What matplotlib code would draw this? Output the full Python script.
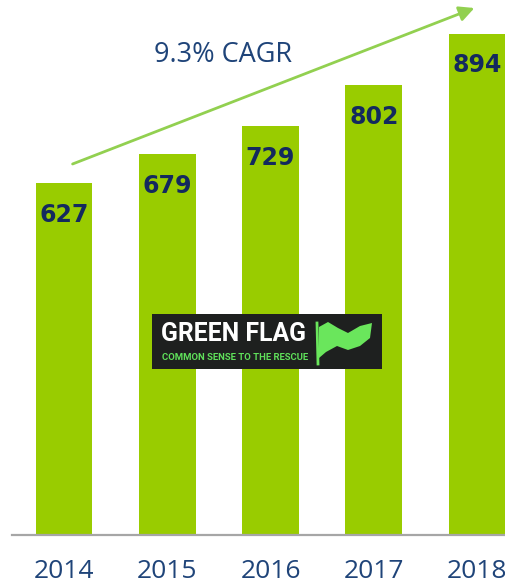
import numpy as np
import matplotlib.pyplot as plt
from matplotlib import font_manager
from matplotlib.patches import Rectangle, Polygon

years = ['2014', '2015', '2016', '2017', '2018']
values = [627, 679, 729, 802, 894]
cagr_label = '9.3% CAGR'

bar_color = '#99cc00'
navy = '#13295e'
label_blue = '#1f4479'

names = {f.name for f in font_manager.fontManager.ttflist}
narrow = 'Liberation Sans Narrow' if 'Liberation Sans Narrow' in names else 'Roboto'

W, H = 506, 586
fig = plt.figure(figsize=(W / 100, H / 100), dpi=100)
ax = fig.add_axes([12 / W, 51 / H, 1 - 12 / W, 1 - 51 / H])

x = np.arange(len(years))
ax.bar(x, values, width=0.55, color=bar_color)
ax.set_xlim(-0.503, 4.28)
ax.set_ylim(0, 954)

for xi, v in zip(x, values):
    ax.text(xi, v - 56, str(v), ha='center', va='center', fontsize=17,
            fontweight='bold', color=navy, family='DejaVu Sans')

for s in ['top', 'right', 'left']:
    ax.spines[s].set_visible(False)
ax.spines['bottom'].set_color('#a6a6a6')
ax.spines['bottom'].set_linewidth(1.6)
ax.set_yticks([])
ax.set_xticks(x)
ax.set_xticklabels(years, fontsize=19, color=label_blue, family='Open Sans')
ax.tick_params(axis='x', length=0, pad=17)

# growth arrow
fig_px = lambda px, py: (px / W, 1 - py / H)
ax.annotate('', xy=fig_px(477, 7), xytext=fig_px(70, 165),
            xycoords='figure fraction', textcoords='figure fraction',
            arrowprops=dict(arrowstyle='-|>,head_length=0.9,head_width=0.45',
                            color='#92d050', lw=2))
fig.text(*fig_px(223, 55), cagr_label, ha='center', va='center',
         fontsize=19.5, color=label_blue, family='Open Sans')

# logo box
x0, y0 = fig_px(152, 369)
fig.patches.append(Rectangle((x0, y0), 230 / W, 55 / H, transform=fig.transFigure,
                             facecolor='#1e201f', edgecolor='none', zorder=3))
fig.text(*fig_px(161, 334), 'GREEN FLAG', ha='left', va='center',
         fontsize=20 if narrow != 'Roboto' else 17.8,
         fontweight='bold', color='white', family=narrow, zorder=4)
fig.text(*fig_px(162, 358), 'COMMON SENSE TO THE RESCUE', ha='left', va='center',
         fontsize=7.6 if narrow != 'Roboto' else 6.8, fontweight='bold',
         color='#5fe05a', family=narrow, zorder=4)
flag = [(319, 327), (328, 322), (338, 328), (348, 333), (360, 326), (372, 323),
        (370, 338), (360, 346), (348, 350), (337, 346), (326, 352), (319, 358)]
fig.patches.append(Polygon([fig_px(px, py) for px, py in flag], closed=True,
                           transform=fig.transFigure, facecolor='#6ae65c',
                           edgecolor='none', zorder=4))
fig.lines.append(plt.Line2D([317 / W, 318 / W], [1 - 323 / H, 1 - 364 / H],
                            transform=fig.transFigure, color='#6ae65c', lw=2, zorder=4))

fig.savefig('out.png', dpi=100)
